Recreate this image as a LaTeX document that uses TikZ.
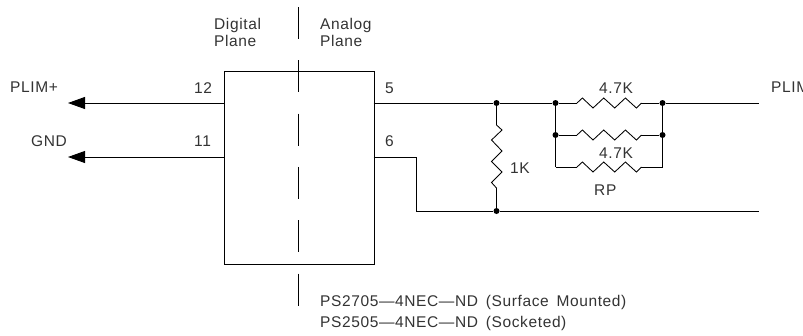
\documentclass[tikz,border=0pt]{standalone}
\usepackage{fontspec}
\setmainfont[LetterSpace=4]{Liberation Sans}
\usetikzlibrary{arrows.meta}
\tikzset{
  wire/.style={line width=0.85pt,line join=miter,black},
  planeline/.style={line width=0.85pt,black,dash pattern=on 32pt off 21.3pt},
  dot/.style={circle,fill=black,inner sep=0pt,minimum size=6pt},
  lbl/.style={inner sep=0pt,font=\fontsize{15.5}{17}\selectfont,text=black!80},
  lblL/.style={lbl,anchor=west,align=left},
  arrowwire/.style={wire,-{Triangle[length=17pt,width=12pt]}},
  hres/.pic={\draw[wire] (0,0) -- (5.4,-5) -- (16,5) -- (26.7,-5) -- (37.7,5) -- (48.4,-5) -- (59.4,5) -- (64.4,0);}
}
\begin{document}
\begin{tikzpicture}[x=1pt,y=-1pt]
\useasboundingbox (0,0) rectangle (803,335);
\clip (0,0) rectangle (803,335);
% plane divider
\coordinate (pt) at (298.5,7);
\coordinate (pb) at (298.5,307);
\draw[planeline] (pt) -- (pb);
% package
\node[draw,line width=0.85pt,minimum width=150pt,minimum height=193pt,inner sep=0pt,anchor=north west] (box) at (223.5,71) {};
% left pins
\coordinate (p12) at (223.5,103);
\coordinate (p11) at (223.5,157);
\coordinate (plim) at (68,103);
\coordinate (gnd) at (68,157);
\draw[arrowwire] (p12) -- (plim);
\draw[arrowwire] (p11) -- (gnd);
% right pins
\coordinate (p5) at (373.5,103);
\coordinate (p6) at (373.5,157);
\coordinate (k6) at (416,157);
\coordinate (k6b) at (416,211);
\coordinate (endA) at (759,103);
\coordinate (endB) at (759,211);
\node[dot] (j1) at (496.5,103) {};
\node[dot] (j2) at (555.5,103) {};
\node[dot] (j3) at (662.5,103) {};
\node[dot] (j4) at (555.5,135) {};
\node[dot] (j5) at (662.5,135) {};
\node[dot] (j6) at (496.5,211) {};
\coordinate (c1) at (555.5,167);
\coordinate (c2) at (662.5,167);
\coordinate (r1a) at (577,103); \coordinate (r1b) at (641.4,103);
\coordinate (r2a) at (577,135); \coordinate (r2b) at (641.4,135);
\coordinate (r3a) at (577,167); \coordinate (r3b) at (641.4,167);
\coordinate (r4a) at (496.5,125); \coordinate (r4b) at (496.5,188);
\draw[wire] (p5) -- (j1) -- (j2) -- (r1a);
\draw[wire] (r1b) -- (j3) -- (endA);
\draw[wire] (j4) -- (r2a);
\draw[wire] (r2b) -- (j5);
\draw[wire] (c1) -- (r3a);
\draw[wire] (r3b) -- (c2);
\draw[wire] (j2) -- (j4) -- (c1);
\draw[wire] (j3) -- (j5) -- (c2);
\draw[wire] (p6) -- (k6) -- (k6b) -- (j6) -- (endB);
\draw[wire] (j1) -- (r4a);
\draw[wire] (r4b) -- (j6);
\pic at (r1a) {hres};
\pic at (r2a) {hres};
\pic at (r3a) {hres};
\draw[wire] (r4a) -- ++(5.5,5) -- ++(-10.5,10) -- ++(10.5,11) -- ++(-10.5,10.5) -- ++(10.5,10.5) -- ++(-10.5,10.5) -- (r4b);
% labels
\node[lblL] (tDig) at (214,32.5) {Digital\\Plane};
\node[lblL] (tAna) at (320,32.5) {Analog\\Plane};
\node[lblL] (tPlim) at (10,87.5) {PLIM+};
\node[lblL] (tGnd) at (31,141.5) {GND};
\node[lblL] (t12) at (194,88) {12};
\node[lblL] (t11) at (194,141.5) {11};
\node[lblL] (t5) at (385,88) {5};
\node[lblL] (t6) at (385,141.5) {6};
\node[lblL] (tR1) at (599,88) {4.7K};
\node[lblL] (tR2) at (599,153) {4.7K};
\node[lblL] (t1K) at (510,168) {1K};
\node[lblL] (tRP) at (594,190) {RP};
\node[lblL] (tOut) at (771,87) {PLIM};
\node[lblL,font=\fontsize{15.5}{21}\selectfont] (tPart) at (320,312.5) {\spaceskip=0.5em PS2705—4NEC—ND (Surface Mounted)\\\spaceskip=0.5em PS2505—4NEC—ND (Socketed)};
\end{tikzpicture}
\end{document}
